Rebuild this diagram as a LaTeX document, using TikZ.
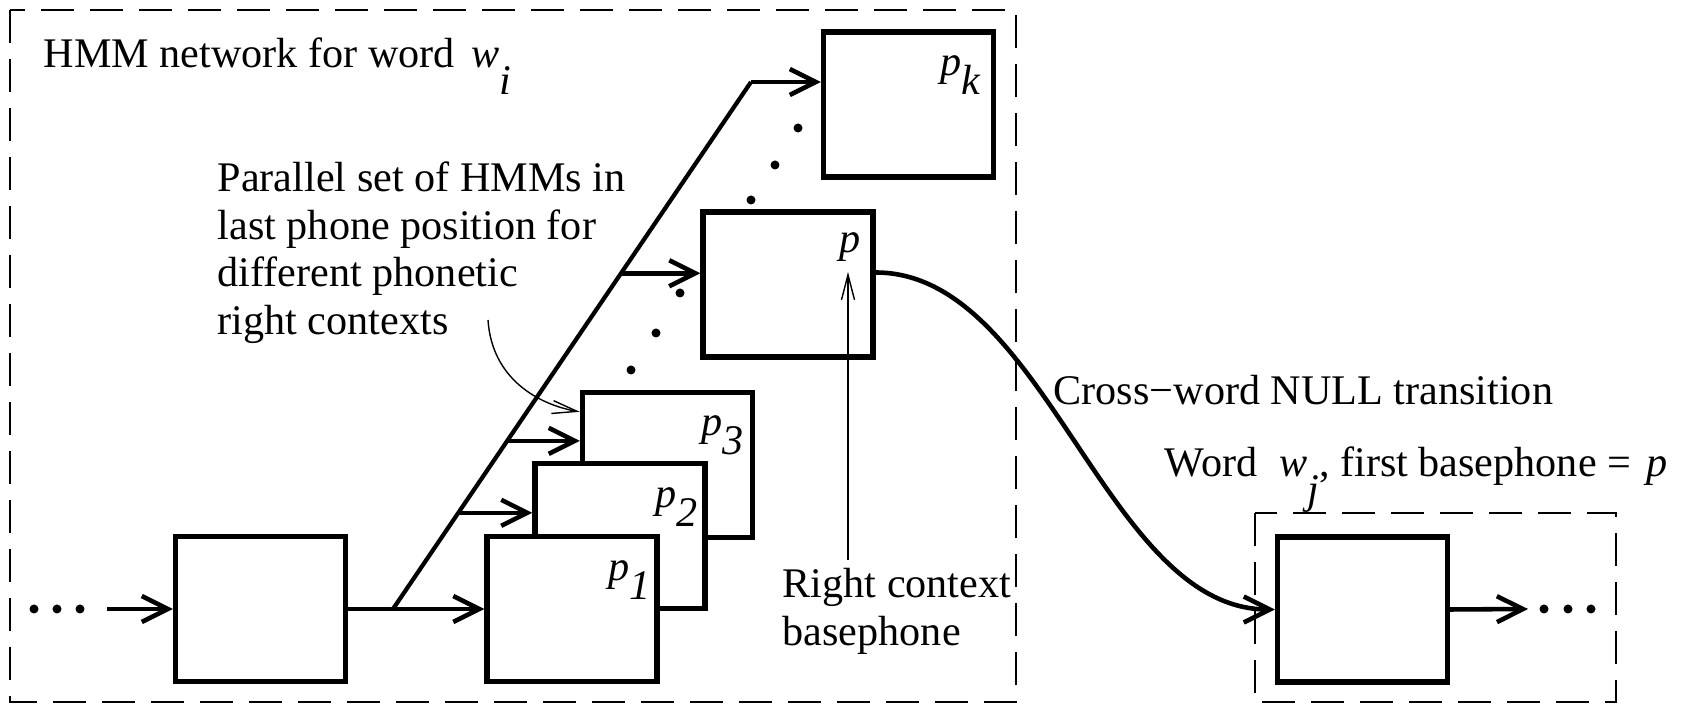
\documentclass[tikz,border=0pt]{standalone}
\usepackage{fontspec}
\setmainfont{Liberation Serif}
\usetikzlibrary{arrows.meta,calc}
\tikzset{
	hmm/.style={draw,line width=1.5pt,fill=white,minimum width=17mm,minimum height=14.5mm,inner sep=0pt},
	link/.style={line width=1.3pt,-{Straight Barb[length=2.6mm,width=2.6mm]}},
	note/.style={line width=0.4pt,-{Straight Barb[length=2.5mm,width=1.3mm]}},
	wordbox/.style={draw,line width=0.5pt,dash pattern=on 3.3mm off 1.6mm},
	txt/.style={inner sep=0pt,anchor=base west},
}
\newcommand{\ph}[1]{\textit{p}\raisebox{-1.9mm}{\textit{#1}}}
\begin{document}
\begin{tikzpicture}[x=0.1mm,y=-0.1mm,font=\fontsize{12}{13.6}\selectfont]
	\useasboundingbox (0,0) rectangle (1692,705);
	\draw[wordbox] (10,10) rectangle (1016,702);
	\draw[wordbox] (1255,513) rectangle (1616,702);
	\node[txt] (title) at (43,68) {HMM network for word\hspace{1.7mm}\textit{w}\raisebox{-2.7mm}{\textit{i}}};
	% phone models
	\node[hmm] (a) at (260.5,609) {};
	\node[hmm] (p3) at (667.5,465) {};
	\node[hmm] (p2) at (620,536) {};
	\node[hmm] (p1) at (572,609) {};
	\node[hmm] (p) at (788,284.5) {};
	\node[hmm] (pk) at (908.5,104.5) {};
	\node[hmm] (b) at (1362.5,609.5) {};
	\node[txt] (l1) at ($(p1.north east)+(-52,47)$) {\ph{1}};
	\node[txt] (l2) at ($(p2.north east)+(-53,47)$) {\ph{2}};
	\node[txt] (l3) at ($(p3.north east)+(-54,46)$) {\ph{3}};
	\node[txt] (lp) at ($(p.north east)+(-37,43)$) {\textit{p}};
	\node[txt] (lk) at ($(pk.north east)+(-56,46)$) {\ph{k}};
	% fan out to the right contexts
	\coordinate (in) at (107,609);
	\coordinate (fork) at (393,609);
	\coordinate (bend) at (751,82);
	\coordinate (d2) at ($(fork)!0.1825!(bend)$);
	\coordinate (d3) at ($(fork)!0.319!(bend)$);
	\coordinate (dp) at ($(fork)!0.637!(bend)$);
	\draw[link] (in) -- (a.west);
	\draw[link] (a.east) -- (p1.west);
	\draw[line width=1.2pt] (fork) -- (bend);
	\draw[link] (d2) -- (d2 -| p2.west);
	\draw[link] (d3) -- (d3 -| p3.west);
	\draw[link] (dp) -- (dp -| p.west);
	\draw[link] (bend) -- (bend -| pk.west);
	\foreach \x in {34,57,80} \fill (\x,609) circle[radius=0.45mm];
	\foreach \x/\y in {631/370,656/333,680/293,751/200,775/165,798/128} \fill (\x,\y) circle[radius=0.45mm];
	% notes
	\node[txt,align=left,anchor=north west] (par) at (217,161) {Parallel set of HMMs in\\last phone position for\\different phonetic\\right contexts};
	\coordinate (parstart) at (488,320);
	\draw[note] (parstart) .. controls +(4,60) and +(-40,-7) .. ($(p3.north west)+(0,22)$);
	\node[txt,align=left,anchor=north west] (rc) at (782,568) {Right context\\basephone};
	\coordinate (rctip) at (848,272);
	\draw[note] ($(rctip |- rc.north)+(0,-8)$) -- (rctip);
	% next word
	\draw[link] ($(p.east)+(0,-12)$) .. controls +(170,0) and +(-170,0) .. (b.west);
	\node[txt] (cross) at (1053,405) {Cross−word NULL transition};
	\node[txt] (next) at (1164,477) {Word\hspace{2.2mm}\textit{w}\raisebox{-2.7mm}{\textit{j}}, first basephone =\hspace{1.5mm}\textit{p}};
	\coordinate (out) at (1528,609);
	\draw[link] (b.east) -- (out);
	\foreach \x in {1544,1568,1591} \fill (\x,609) circle[radius=0.45mm];
\end{tikzpicture}
\end{document}
